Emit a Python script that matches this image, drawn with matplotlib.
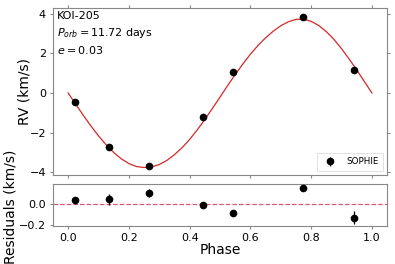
import matplotlib
matplotlib.use("Agg")
import matplotlib.pyplot as plt

# SOPHIE RV measurements, phase folded
phase = [0.023, 0.136, 0.265, 0.444, 0.542, 0.774, 0.941]
rv = [-0.46, -2.73, -3.68, -1.23, 1.06, 3.86, 1.18]
rv_err = [0.03, 0.05, 0.04, 0.03, 0.025, 0.025, 0.06]
resid = [0.042, 0.045, 0.104, -0.006, -0.086, 0.151, -0.128]

# orbital model
model_phase = [0.0, 0.025, 0.05, 0.075, 0.1, 0.125, 0.15, 0.175, 0.2, 0.225,
               0.25, 0.275, 0.3, 0.325, 0.35, 0.375, 0.4, 0.425, 0.45, 0.475,
               0.5, 0.525, 0.55, 0.575, 0.6, 0.625, 0.65, 0.675, 0.7, 0.725,
               0.75, 0.775, 0.8, 0.825, 0.85, 0.875, 0.9, 0.925, 0.95, 0.975, 1.0]
model_rv = [0.0, -0.57, -1.13, -1.67, -2.17, -2.62, -3.01, -3.33, -3.57, -3.72,
            -3.77, -3.74, -3.62, -3.41, -3.12, -2.77, -2.35, -1.87, -1.34, -0.78,
            -0.21, 0.37, 0.93, 1.46, 1.96, 2.40, 2.79, 3.12, 3.40, 3.60,
            3.72, 3.73, 3.62, 3.41, 3.10, 2.71, 2.24, 1.72, 1.16, 0.58, 0.0]

spine_col = '#888888'

fig = plt.figure(figsize=(3.95, 2.64), dpi=100)
ax = fig.add_axes([0.134, 0.337, 0.846, 0.633])
axr = fig.add_axes([0.134, 0.144, 0.846, 0.159], sharex=ax)

ax.plot(model_phase, model_rv, color='#d62728', lw=0.9, zorder=2)
ax.errorbar(phase, rv, yerr=rv_err, fmt='o', color='black', ms=4.5,
            elinewidth=0.9, capsize=0, label='SOPHIE', zorder=3)

ax.set_xlim(-0.05, 1.05)
ax.set_ylim(-4.15, 4.3)
ax.set_yticks([-4, -2, 0, 2, 4])
ax.set_ylabel('RV (km/s)', fontsize=10)
ax.yaxis.set_label_coords(-0.063, 0.5)
ax.tick_params(axis='both', labelsize=8, color=spine_col, length=2.5, pad=2.5,
               top=True, right=True, labelbottom=False)
ax.text(0.012, 0.952, 'KOI-205', transform=ax.transAxes, fontsize=8,
        ha='left', va='center')
ax.text(0.012, 0.85, r'$P_{orb} = 11.72$ days', transform=ax.transAxes,
        fontsize=8, ha='left', va='center')
ax.text(0.012, 0.749, r'$e = 0.03$', transform=ax.transAxes, fontsize=8,
        ha='left', va='center')
leg = ax.legend(loc='lower right', fontsize=6.3, handletextpad=0.8,
                borderpad=0.5, fancybox=False, framealpha=1)
leg.get_frame().set_edgecolor('#dddddd')
leg.get_frame().set_linewidth(0.6)

axr.errorbar(phase, resid, yerr=rv_err, fmt='o', color='black', ms=4.5,
             elinewidth=0.9, capsize=0, zorder=3)
axr.axhline(0.0, color='#dc5a78', ls='--', lw=0.9, zorder=1)
axr.set_ylim(-0.205, 0.19)
axr.set_yticks([-0.2, 0.0])
axr.set_xticks([0.0, 0.2, 0.4, 0.6, 0.8, 1.0])
axr.set_xlabel('Phase', fontsize=10, labelpad=0)
axr.set_ylabel('Residuals (km/s)', fontsize=10)
axr.yaxis.set_label_coords(-0.105, 0.45)
axr.tick_params(axis='both', labelsize=8, color=spine_col, length=2.5, pad=2.5)

for a in (ax, axr):
    for s in a.spines.values():
        s.set_color(spine_col)
        s.set_linewidth(0.8)

fig.savefig('out.png', dpi=100)
